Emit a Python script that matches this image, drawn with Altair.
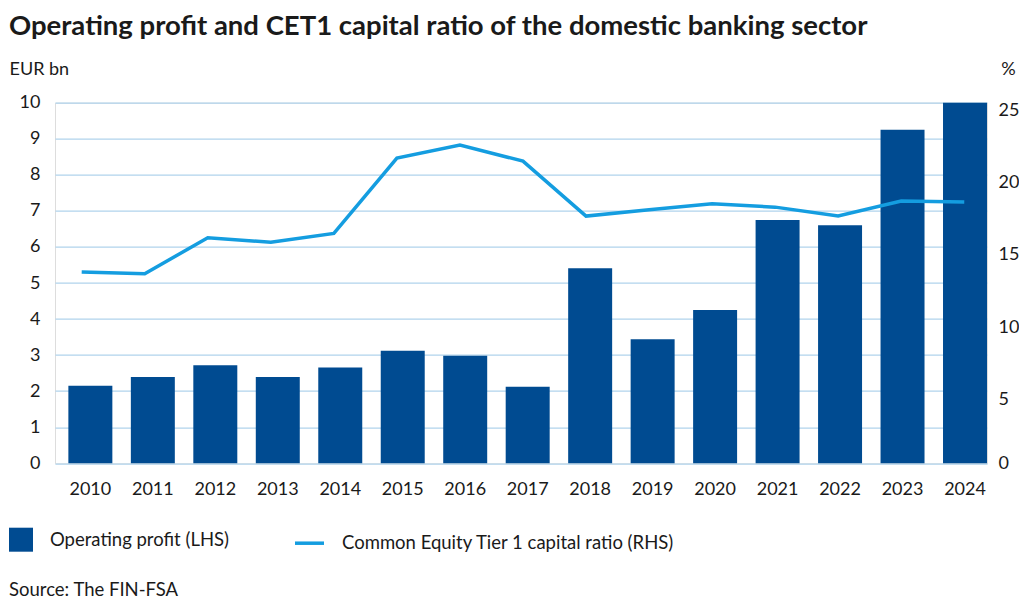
import altair as alt
import pandas as pd

years = [str(y) for y in range(2010, 2025)]
operating_profit = [2.15, 2.39, 2.72, 2.39, 2.66, 3.12, 2.98, 2.12, 5.41, 3.44, 4.25, 6.75, 6.60, 9.25, 10.0]
cet1_ratio = [13.26, 13.14, 15.64, 15.32, 15.94, 21.16, 22.06, 20.95, 17.14, 17.58, 17.99, 17.76, 17.14, 18.18, 18.11]
left_ticks = list(range(0, 11))
right_ticks = [0, 5, 10, 15, 20, 25]

title_text = "Operating profit and CET1 capital ratio of the domestic banking sector"
left_unit = "EUR bn"
right_unit = "%"
bar_label = "Operating profit (LHS)"
line_label = "Common Equity Tier 1 capital ratio (RHS)"
source_text = "Source: The FIN-FSA"

BAR = "#004b91"
LINE = "#149de0"
GRID = "#b0d3ec"
TXT = "#1a1a1a"
FONT = "Lato"

df = pd.DataFrame({"year": years, "profit": operating_profit, "cet1": cet1_ratio})
df["bar_series"] = bar_label
df["line_series"] = line_label

base = alt.Chart(df)

bars = base.mark_bar().encode(
    x=alt.X(
        "year:N",
        scale=alt.Scale(paddingInner=0.296, paddingOuter=0.107, align=1),
        axis=alt.Axis(title=None, labelAngle=0, labelPadding=17, ticks=False, domain=False,
                      labelFontSize=18, labelColor=TXT, labelFont=FONT),
    ),
    y=alt.Y(
        "profit:Q",
        scale=alt.Scale(domain=[0, 10], nice=False),
        axis=alt.Axis(values=left_ticks, title=left_unit, titleAngle=0, titleAlign="left",
                      titleBaseline="middle", titleX=-46, titleY=-33, titleFont=FONT,
                      titleFontSize=18, titleFontWeight="normal", titleColor=TXT,
                      grid=True, gridColor=GRID, gridWidth=1.3, domain=False, ticks=False,
                      labelPadding=15, labelFontSize=18, labelColor=TXT, labelFont=FONT),
    ),
    color=alt.Color(
        "bar_series:N",
        scale=alt.Scale(range=[BAR]),
        legend=alt.Legend(title=None, orient="none", legendX=-46, legendY=425,
                          symbolType="square", symbolSize=576, symbolStrokeWidth=0,
                          symbolOpacity=1, labelOffset=17, labelFontSize=18.5, labelLimit=0,
                          labelFont=FONT, labelColor=TXT),
    ),
)

line = base.mark_line(strokeWidth=3.5).encode(
    x=alt.X("year:N", scale=alt.Scale(type="point", padding=0.392, align=0.54), axis=None),
    y=alt.Y(
        "cet1:Q",
        scale=alt.Scale(domain=[0, 25], nice=False),
        axis=alt.Axis(orient="right", values=right_ticks, title=right_unit, titleAngle=0,
                      titleAlign="center", titleBaseline="middle", titleX=21, titleY=-33,
                      titleFont=FONT, titleFontSize=18, titleFontWeight="normal",
                      titleColor=TXT, grid=False, domain=False, ticks=False,
                      labelPadding=11, labelFontSize=18, labelColor=TXT, labelFont=FONT,
                      labelOffset={"condition": {"test": "datum.value === 0", "value": 0},
                                   "value": 8}),
    ),
    stroke=alt.Stroke(
        "line_series:N",
        scale=alt.Scale(range=[LINE]),
        legend=alt.Legend(title=None, orient="none", legendX=238, legendY=424,
                          symbolType="stroke", symbolSize=841, symbolStrokeWidth=3.5,
                          labelOffset=16, labelFontSize=18.5, labelLimit=0,
                          labelFont=FONT, labelColor=TXT),
    ),
)

source = alt.Chart(pd.DataFrame({"t": [source_text]})).mark_text(
    align="left", baseline="middle", fontSize=18.5, font=FONT, color=TXT
).encode(text="t:N", x=alt.value(-46), y=alt.value(487))

chart = alt.layer(bars, line, source).resolve_scale(
    x="independent", y="independent", color="independent", stroke="independent"
).properties(
    width=932,
    height=360.6,
    autosize=alt.AutoSizeParams(type="none"),
    padding={"left": 47, "top": 94.7, "right": 32, "bottom": 140.7},
    title=alt.TitleParams(title_text, anchor="start", frame="group", fontSize=27.5,
                          font=FONT, fontWeight="bold", color=TXT, dx=-46, offset=20),
).configure_view(stroke=None).configure(background="white")

chart.save("out.html", embed_options={"renderer": "svg", "actions": False})
